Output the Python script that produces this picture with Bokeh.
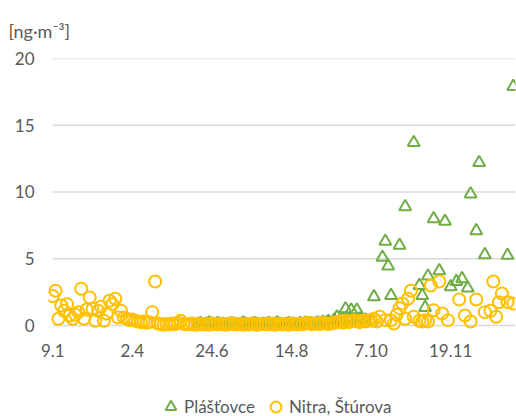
import numpy as np
from bokeh.plotting import figure
from bokeh.layouts import column
from bokeh.models import Range1d, FixedTicker, Legend, LegendItem, ColumnDataSource
from bokeh.embed import file_html
from bokeh.resources import INLINE

# x axis: sample index (category axis), labelled every 28 samples
tick_positions = [0, 28, 56, 84, 112, 140]
tick_labels = ["9.1", "2.4", "24.6", "14.8", "7.10", "19.11"]
y_ticks = [0, 5, 10, 15, 20]
series_names = ["Plášťovce", "Nitra, Štúrova"]

# Nitra, Štúrova  [ng·m-3]  (None = no value)
nitra = [
    2.2, 2.6, 0.5, 1.5, 1.1, 1.6, 0.75, 0.5, 0.8, 1.0,
    2.75, 0.5, 1.2, 2.1, 1.25, 0.35, 1.1, 1.4, 0.35, 0.9,
    1.85, 1.6, 2.0, 0.6, 1.1, 0.6, 0.5, 0.4, 0.45, 0.35,
    0.3, 0.25, 0.3, 0.2, 0.25, 1.0, 3.3, 0.15,
    0.10, 0.05, 0.12, 0.08, 0.15, 0.10, 0.20, 0.35, 0.12, 0.08,
    0.10, 0.15, 0.05, 0.10, 0.12, 0.08, 0.10, 0.05, 0.15, 0.10,
    0.08, 0.12, 0.10, 0.05, 0.10, 0.15, 0.08, 0.10, 0.12, 0.05,
    0.10, 0.08, 0.15, 0.10, 0.05, 0.12, 0.10, 0.08, 0.10, 0.15,
    0.05, 0.10, 0.12, 0.08, 0.10, 0.05, 0.15, 0.10, 0.08, 0.12,
    0.10, 0.15, 0.20, 0.10, 0.12, 0.15, 0.10, 0.20, 0.15, 0.12,
    0.15, 0.2, 0.25, 0.3, 0.2, 0.35, 0.25, 0.3, 0.4, 0.3,
    0.25, 0.35, 0.3, 0.4, 0.35, 0.5, 0.3, 0.65, None, 0.4,
    None, 0.4, 0.15, 0.8, 1.3, 1.65, 0.5, 2.0, 2.6, 0.65,
    None, 0.35, 0.3, 0.4, 0.3, 3.0, 1.15, None, 3.3, 0.9,
    None, 0.4, None, None, None, 1.95, None, 0.75, None, 0.3,
    None, 1.95, None, None, 1.0, None, 1.1, 3.3, 0.65, 1.75,
    2.4, None, 1.75, None, 1.65,
]

# Plášťovce  [ng·m-3]
plastovce = [None] * 51 + [
    0.10, 0.15, 0.05, 0.10, 0.20, 0.10, 0.05, 0.15, 0.10, 0.10,
    0.05, 0.10, 0.15, 0.10, 0.05, 0.10, 0.20, 0.10, 0.05, 0.10,
    0.15, 0.10, 0.05, 0.10, 0.10, 0.15, 0.05, 0.10, 0.20, 0.10,
    0.05, 0.10, 0.15, 0.10, 0.10, 0.05, 0.15, 0.10, 0.20, 0.10,
    0.15, 0.10, 0.20, 0.15, 0.25, 0.20, 0.30,
    0.15, 0.4, 0.65, 0.3, 0.5, 1.25, 0.45, 1.15, 0.35, 1.15,
    0.5, 0.3, 0.4, None, 0.3, 2.15, None, None, 5.1, 6.3,
    4.45, 2.25, None, None, 6.0, None, 8.9, None, None, 13.7,
    None, 3.0, 2.25, 1.35, 3.7, None, 8.0, None, 4.1, None,
    7.8, None, 2.9, None, 3.3, None, 3.5, None, 2.8, 9.85,
    None, 7.1, 12.2, None, 5.3, None, None, None, None, None,
    None, None, 5.25, None, 17.9,
]


def to_arr(v):
    return np.array([np.nan if a is None else a for a in v], dtype=float)


src_n = ColumnDataSource(dict(x=np.arange(len(nitra)), y=to_arr(nitra)))
src_p = ColumnDataSource(dict(x=np.arange(len(plastovce)), y=to_arr(plastovce)))

FONT = "Lato"
GREY = "#595959"
FS = "17px"
GREEN = "#70AD47"
YELLOW = "#FFC000"

x_end = 162.8
p = figure(width=516, height=386, output_backend="svg", toolbar_location=None,
           x_range=Range1d(-1.5, x_end), y_range=Range1d(-0.6, 20),
           min_border_left=48, min_border_right=1, min_border_top=57,
           min_border_bottom=53, title="[ng·m⁻³]")
p.outline_line_color = None
p.background_fill_color = "white"
p.border_fill_color = "white"

# horizontal gridlines starting at the first category
p.xgrid.visible = False
p.ygrid.visible = False
grid_src = ColumnDataSource(dict(x0=[tick_positions[0]] * len(y_ticks),
                                 x1=[x_end] * len(y_ticks),
                                 y=y_ticks))
p.segment(x0="x0", y0="y", x1="x1", y1="y", source=grid_src,
          line_color="#d9d9d9", line_width=1.3)

p.title.align = "left"
p.title.offset = -40
p.title.standoff = 34
p.title.text_font = FONT
p.title.text_font_size = "18px"
p.title.text_font_style = "normal"
p.title.text_color = GREY

p.xaxis.ticker = FixedTicker(ticks=tick_positions)
p.xaxis.major_label_overrides = {t: l for t, l in zip(tick_positions, tick_labels)}
p.yaxis.ticker = FixedTicker(ticks=y_ticks)
for ax in (p.xaxis, p.yaxis):
    ax.axis_line_color = None
    ax.major_tick_line_color = None
    ax.minor_tick_line_color = None
    ax.major_tick_out = 0
    ax.major_tick_in = 0
    ax.major_label_text_font = FONT
    ax.major_label_text_font_size = FS
    ax.major_label_text_color = GREY
p.xaxis.major_label_standoff = 10
p.yaxis.major_label_standoff = 14

p.scatter("x", "y", source=src_p, marker="triangle", size=12,
          fill_color=None, line_color=GREEN, line_width=2)
p.scatter("x", "y", source=src_n, marker="circle", size=12,
          fill_color=None, line_color=YELLOW, line_width=2)

# legend strip below the chart
lg = figure(width=516, height=30, output_backend="svg", toolbar_location=None,
            x_range=Range1d(0, 1), y_range=Range1d(0, 1),
            min_border_left=0, min_border_right=0, min_border_top=0,
            min_border_bottom=0)
lg.axis.visible = False
lg.grid.visible = False
lg.outline_line_color = None
empty = ColumnDataSource(dict(x=[np.nan], y=[np.nan]))
lr_p = lg.scatter("x", "y", source=empty, marker="triangle", size=12,
                  fill_color=None, line_color=GREEN, line_width=2)
lr_n = lg.scatter("x", "y", source=empty, marker="circle", size=12,
                  fill_color=None, line_color=YELLOW, line_width=2)
legend = Legend(items=[LegendItem(label=series_names[0], renderers=[lr_p]),
                       LegendItem(label=series_names[1], renderers=[lr_n])],
                location=(109, -4), orientation="horizontal",
                border_line_color=None, background_fill_alpha=0,
                padding=0, margin=0, spacing=7, glyph_width=27, glyph_height=27,
                label_standoff=0, label_text_font=FONT, label_text_font_size=FS,
                label_text_color=GREY)
lg.add_layout(legend)

open("out.html", "w").write(file_html(column(p, lg, spacing=0), INLINE))
